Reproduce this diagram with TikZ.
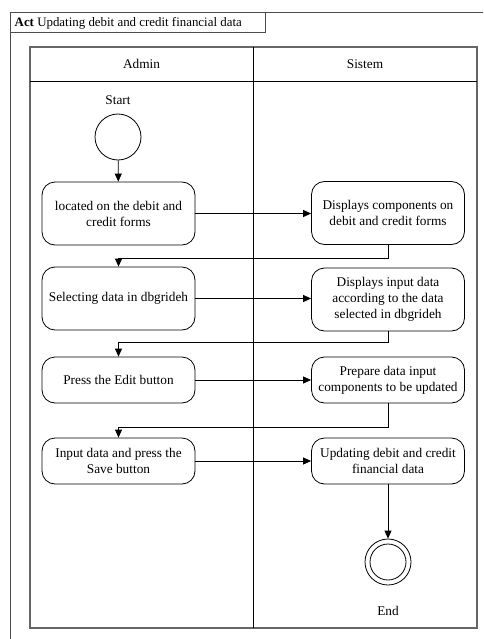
\documentclass[tikz,border=0pt]{standalone}
\usepackage{fontspec}
\setmainfont{Liberation Serif}
\usetikzlibrary{arrows.meta,calc}
\begin{document}
\begin{tikzpicture}[x=1pt,y=-1pt,
  txt/.style={font=\fontsize{13.3}{16}\selectfont},
  act/.style={txt, draw=black, line width=0.8pt, rounded corners=13pt,
    align=center, minimum width=153pt, inner sep=2pt},
  flow/.style={draw=black, line width=0.8pt, -{Triangle[length=8pt,width=7pt]}},
  lane/.style={draw=black!60, line width=1.1pt},
  state/.style={circle, draw=black, line width=0.8pt, inner sep=0pt}
]
\useasboundingbox (0,0) rectangle (483,639);
\clip (0,0) rectangle (483,639);

% outer activity frame and its name tab
\draw[draw=black!70, line width=1pt] (10,700) -- (10,13) -- (520,13);
\draw[draw=black!70, line width=1pt] (10,13) rectangle (265,33);
\node[font=\fontsize{12.9}{16}\selectfont, anchor=west, inner sep=0pt] (title) at (14.5,23.5) {\textbf{Act} Updating debit and credit financial data};

% swimlanes
\draw[lane] (30,47) rectangle (477,628);
\draw[draw=black, line width=0.8pt] (30,81) -- (477,81);
\draw[draw=black, line width=0.8pt] (253,47) -- (253,628);
\node[txt] (hadmin) at (141.5,64) {Admin};
\node[txt] (hsistem) at (365,64) {Sistem};

% initial state
\node[txt] (startlbl) at (118,100) {Start};
\node[state, minimum size=46pt] (start) at (118,137) {};

% actions
\node[act, minimum height=63pt] (a1) at (118.5,213.5) {located on the debit and\\credit forms};
\node[act, minimum height=63pt] (s1) at (388,213) {Displays components on\\debit and credit forms};
\node[act, minimum height=63pt] (a2) at (118.5,298.5) {Selecting data in dbgrideh};
\node[act, minimum height=63pt] (s2) at (388,299.5) {Displays input data\\according to the data\\selected in dbgrideh};
\node[act, minimum height=46pt] (a3) at (118.5,380) {Press the Edit button};
\node[act, minimum height=46pt] (s3) at (388,380) {Prepare data input\\components to be updated};
\node[act, minimum height=46pt] (a4) at (118.5,461) {Input data and press the\\Save button};
\node[act, minimum height=46pt] (s4) at (388,461) {Updating debit and credit\\financial data};

% final state
\node[state, minimum size=46pt] (end) at (388,562) {};
\node[state, minimum size=36pt] (endin) at (end) {};
\node[txt] (endlbl) at (388,611) {End};

% control flows
\draw[flow] (start) -- (a1);
\draw[flow] (a1.east) -- (a1.east -| s1.west);
\draw[flow] (s1.south) -- ++(0,13) -| (a2.north);
\draw[flow] (a2.east) -- (a2.east -| s2.west);
\draw[flow] (s2.south) -- ++(0,11) -| (a3.north);
\draw[flow] (a3.east) -- (s3.west);
\draw[flow] (s3.south) -- ++(0,24) -| (a4.north);
\draw[flow] (a4.east) -- (s4.west);
\draw[flow] (s4.south) -- (end.north);
\end{tikzpicture}
\end{document}
